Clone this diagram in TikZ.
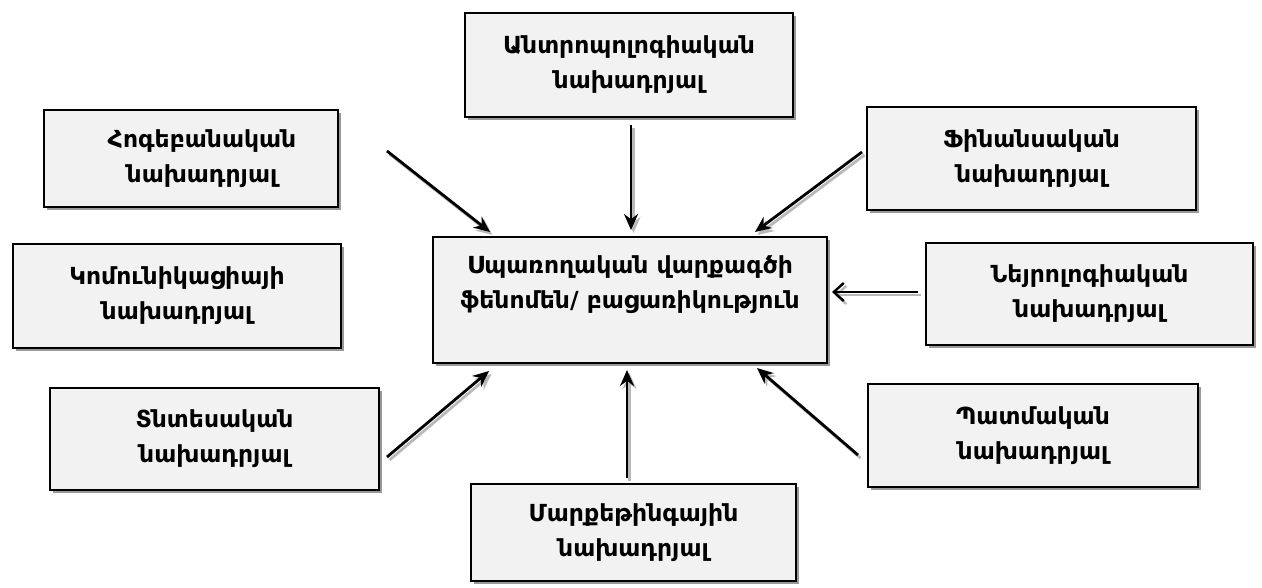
\documentclass[tikz,border=0pt]{standalone}
\usepackage{fontspec}
\setmainfont{DejaVu Sans}
\usetikzlibrary{arrows.meta,shadows}
\definecolor{boxfill}{HTML}{F2F2F2}
\tikzset{
  box/.style={draw=black, line width=2pt, fill=boxfill, align=center,
    font=\bfseries\fontsize{23.5}{35}\selectfont, inner sep=0pt,
    drop shadow={shadow xshift=3pt, shadow yshift=-3pt, fill=gray!80, opacity=1}},
  tip/.style={-{Stealth[length=16pt,width=14pt]}},
  arr/.style={line width=2.8pt, tip},
  arrshadow/.style={draw=gray!55, line width=2.8pt, tip},
  otip/.style={-{Straight Barb[length=10pt,width=18pt,line width=2.4pt]}},
  openarr/.style={line width=2.8pt, otip},
  openshadow/.style={draw=gray!55, line width=2.8pt, otip}
}
\newcommand{\bx}[6]{% name, x1,y1,x2,y2,text
  \node[box, minimum width=#4pt-#2pt, minimum height=#5pt-#3pt] (#1) at ({(#2+#4)/2},{(#3+#5)/2}) {#6};}
\begin{document}
\begin{tikzpicture}[x=1pt,y=-1pt]
\useasboundingbox (0,0) rectangle (1262,588);
\bx{ant}{465}{13}{793}{117}{Անտրոպոլոգիական\\նախադրյալ}
\bx{hog}{44}{110}{338}{207}{\hspace*{22pt}Հոգեբանական\\\hspace*{22pt}նախադրյալ}
\bx{fin}{867}{107}{1196}{210}{Ֆինանսական\\նախադրյալ}
\bx{cen}{433}{237}{827}{363}{Սպառողական վարքագծի\\ֆենոմեն/ բացառիկություն\\\mbox{}}
\bx{ney}{926}{243}{1253}{345}{Նեյրոլոգիական\\նախադրյալ}
\bx{kom}{13}{244}{341}{348}{Կոմունիկացիայի\\նախադրյալ}
\bx{tnt}{50}{388}{379}{490}{Տնտեսական\\նախադրյալ}
\bx{pat}{868}{384}{1198}{487}{Պատմական\\նախադրյալ}
\bx{mar}{471}{484}{796}{581}{Մարքեթինգային\\նախադրյալ}
\coordinate (ant1) at (631,125); \coordinate (ant2) at (631,230);
\coordinate (hog1) at (387,151); \coordinate (hog2) at (490,232);
\coordinate (fin1) at (862,152); \coordinate (fin2) at (755,232);
\coordinate (ney1) at (918,292); \coordinate (ney2) at (832,292);
\coordinate (tnt1) at (387,457); \coordinate (tnt2) at (489,371);
\coordinate (mar1) at (627,478); \coordinate (mar2) at (627,370);
\coordinate (pat1) at (858,455); \coordinate (pat2) at (757,368);
\begin{scope}[transform canvas={xshift=2.5pt,yshift=-3pt}]
\draw[arrshadow] (ant1) -- (ant2);
\draw[arrshadow] (hog1) -- (hog2);
\draw[arrshadow] (fin1) -- (fin2);
\draw[openshadow] (ney1) -- (ney2);
\draw[arrshadow] (tnt1) -- (tnt2);
\draw[arrshadow] (mar1) -- (mar2);
\draw[arrshadow] (pat1) -- (pat2);
\end{scope}
\draw[arr] (ant1) -- (ant2);
\draw[arr] (hog1) -- (hog2);
\draw[arr] (fin1) -- (fin2);
\draw[openarr] (ney1) -- (ney2);
\draw[arr] (tnt1) -- (tnt2);
\draw[arr] (mar1) -- (mar2);
\draw[arr] (pat1) -- (pat2);
\end{tikzpicture}
\end{document}
